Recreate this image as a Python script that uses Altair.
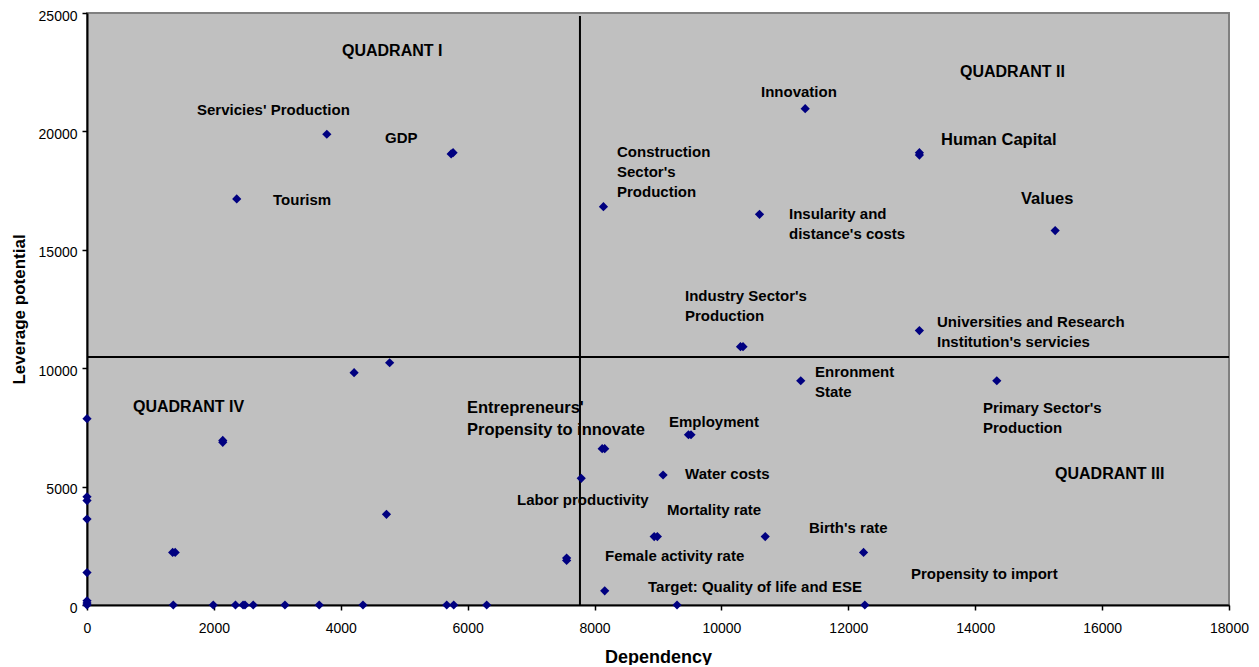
import altair as alt
import pandas as pd

# ---- data ----
dependency = [3780, 5740, 5770, 2360, 11320, 13120, 13120, 8140, 10600, 15260,
              13120, 10300, 10340, 11250, 14340, 4210, 4770, 0, 2140, 2140,
              9480, 9520, 8120, 8160, 9080, 7790, 0, 0, 4720, 0,
              1350, 1390, 8940, 8990, 10690, 12240, 7560, 7560, 8160, 0,
              0, 0, 0, 1360, 1990, 2340, 2460, 2490, 2620, 3120,
              3660, 4350, 5670, 5780, 6300, 9300, 12260]
leverage = [19880, 19050, 19100, 17150, 20960, 19000, 19100, 16820, 16500, 15810,
            11590, 10910, 10910, 9470, 9470, 9810, 10230, 7870, 6870, 6950,
            7190, 7190, 6600, 6600, 5490, 5350, 4570, 4410, 3830, 3630,
            2220, 2220, 2890, 2890, 2890, 2220, 1880, 1980, 600, 1370,
            180, 80, 0, 0, 0, 0, 0, 0, 0, 0,
            0, 0, 0, 0, 0, 0, 0]

# quadrant dividers
split_dependency = 7770
split_leverage = 10470

# annotation labels (data coordinates of the first text line)
label_text = ["Servicies' Production", "GDP", "Tourism", "Innovation",
              "Construction\nSector's\nProduction", "Insularity and\ndistance's costs",
              "Industry Sector's\nProduction", "Universities and Research\nInstitution's servicies",
              "Enronment\nState", "Primary Sector's\nProduction", "Employment",
              "Water costs", "Labor productivity", "Mortality rate", "Birth's rate",
              "Female activity rate", "Propensity to import", "Target: Quality of life and ESE"]
label_x = [1734, 4697, 2932, 10624, 8354, 11065, 9426, 13398, 11475, 14123, 9173,
           9426, 6778, 9142, 11380, 8165, 12988, 8843]
label_y = [20904, 19721, 17103, 21664, 19130, 16512, 13049, 11951, 9840, 8319, 7728,
           5532, 4434, 4012, 3252, 2069, 1309, 760]

big_text = ["Human Capital", "Values", "Entrepreneurs'\nPropensity to innovate"]
big_x = [13461, 14722, 5990]
big_y = [19637, 17145, 8319]

quad_text = ["QUADRANT I", "QUADRANT II", "QUADRANT III", "QUADRANT IV"]
quad_x = [4019, 13760, 15258, 725]
quad_y = [23395, 22508, 5532, 8361]

x_ticks = list(range(0, 18001, 2000))
y_ticks = list(range(0, 25001, 5000))

# ---- chart ----
FONT = "Liberation Sans"
pts = pd.DataFrame({"dep": dependency, "lev": leverage})
labels = pd.DataFrame({"t": label_text, "x": label_x, "y": label_y})
bigs = pd.DataFrame({"t": big_text, "x": big_x, "y": big_y})
quads = pd.DataFrame({"t": quad_text, "x": quad_x, "y": quad_y})
vline = pd.DataFrame({"x": [split_dependency], "y": [0], "y2": [24870]})
hline = pd.DataFrame({"y": [split_leverage], "x": [0], "x2": [18000]})

xs = alt.Scale(domain=[0, 18000], nice=False, zero=False)
ys = alt.Scale(domain=[0, 25000], nice=False, zero=False)

x_axis = alt.Axis(values=x_ticks, grid=False, title="Dependency", format="d",
                  labelFlush=False, labelOverlap=False,
                  domainColor="black", domainWidth=2, tickColor="black", tickWidth=1.5,
                  tickSize=5, labelFont=FONT, labelFontSize=14, labelColor="black",
                  labelPadding=11, titleFont=FONT, titleFontSize=18, titleFontWeight="bold",
                  titleColor="black", titleX=571, titleY=52, titleBaseline="middle",
                  titleAlign="center")
y_axis = alt.Axis(values=y_ticks, grid=False, title="Leverage potential", format="d",
                  labelFlush=False, labelOverlap=False, labelOffset=3,
                  domainColor="black", domainWidth=2, tickColor="black", tickWidth=1.5,
                  tickSize=5, labelFont=FONT, labelFontSize=14, labelColor="black",
                  labelPadding=5, titleFont=FONT, titleFontSize=17, titleFontWeight="bold",
                  titleColor="black", titleX=-68, titleY=296, titleAngle=270,
                  titleBaseline="middle", titleAlign="center")

points = alt.Chart(pts).mark_point(shape="diamond", filled=True, color="#000080",
                                   size=85, opacity=1).encode(
    x=alt.X("dep:Q", scale=xs, axis=x_axis),
    y=alt.Y("lev:Q", scale=ys, axis=y_axis),
)

vrule = alt.Chart(vline).mark_rule(color="black", strokeWidth=2).encode(
    x=alt.X("x:Q", scale=xs), y=alt.Y("y:Q", scale=ys), y2="y2:Q")
hrule = alt.Chart(hline).mark_rule(color="black", strokeWidth=2).encode(
    y=alt.Y("y:Q", scale=ys), x=alt.X("x:Q", scale=xs), x2="x2:Q")

lab = alt.Chart(labels).mark_text(align="left", baseline="middle", font=FONT,
                                  fontSize=15, fontWeight="bold", color="black",
                                  lineBreak="\n", lineHeight=20).encode(
    x=alt.X("x:Q", scale=xs), y=alt.Y("y:Q", scale=ys), text="t:N")
big = alt.Chart(bigs).mark_text(align="left", baseline="middle", font=FONT,
                                fontSize=16.5, fontWeight="bold", color="black",
                                lineBreak="\n", lineHeight=22).encode(
    x=alt.X("x:Q", scale=xs), y=alt.Y("y:Q", scale=ys), text="t:N")
quad = alt.Chart(quads).mark_text(align="left", baseline="middle", font=FONT,
                                  fontSize=16, fontWeight="bold", color="black").encode(
    x=alt.X("x:Q", scale=xs), y=alt.Y("y:Q", scale=ys), text="t:N")

chart = alt.layer(vrule, hrule, points, lab, big, quad).properties(
    width=1142, height=592,
    autosize=alt.AutoSizeParams(type="none"),
    padding={"left": 79, "top": 5, "right": 22, "bottom": 60},
    background="white",
).configure_view(fill="#C0C0C0", stroke="#808080", strokeWidth=2)

chart.save("out.html", embed_options={"renderer": "svg", "actions": False})
